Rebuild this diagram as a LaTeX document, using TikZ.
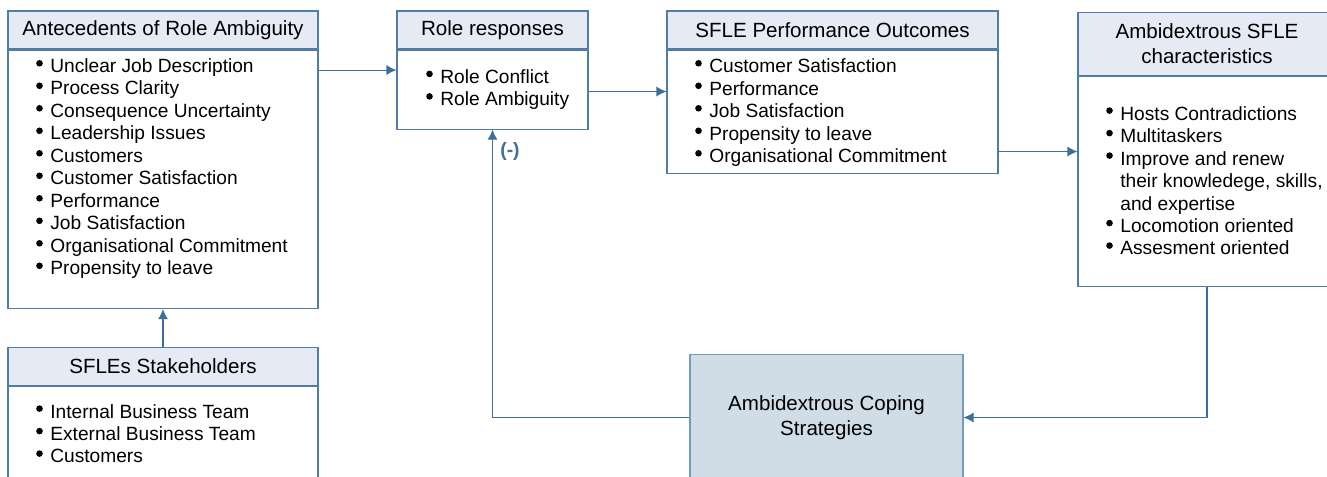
\documentclass[tikz,border=0pt]{standalone}
\usepackage{fontspec}
\setmainfont{Liberation Sans}
\usetikzlibrary{arrows.meta,positioning}
\definecolor{headLavender}{HTML}{E5EAF5}
\definecolor{frameBlue}{HTML}{4F7DA8}
\definecolor{copingGrey}{HTML}{D0DCE6}
\definecolor{copingEdge}{HTML}{6E9DBD}
\definecolor{arrowBlue}{HTML}{3D6E9C}

\begin{document}
\begin{tikzpicture}[
  >=Latex,
  head/.style={draw=frameBlue, fill=headLavender, line width=0.6pt, anchor=north, align=center, inner sep=0pt, minimum height=0.76cm, font=\fontsize{11.7}{14.2}\selectfont},
  body/.style={draw=frameBlue, fill=white, line width=0.6pt, anchor=north, inner sep=0pt},
  listtext/.style={anchor=base west, align=left, inner sep=0pt, font=\fontsize{10.9}{12.8}\selectfont},
  dot/.style={fill=black},
  coping/.style={draw=copingEdge, fill=copingGrey, line width=0.6pt, anchor=north, align=center, minimum width=5.46cm, minimum height=2.52cm, font=\fontsize{11.7}{14.2}\selectfont},
  flow/.style={-{Latex[length=2mm,width=2mm]}, line width=0.6pt, draw=arrowBlue},
  minus/.style={font=\fontsize{11}{13}\selectfont\bfseries, text=arrowBlue}
]
\useasboundingbox (0,0) rectangle (26.54,-9.54);
\clip (0,0) rectangle (26.54,-9.54);

\node[head, minimum width=6.2cm] (antehead) at (3.26,-0.21) {Antecedents of Role Ambiguity};
\node[body, minimum width=6.2cm, minimum height=5.17cm] (antebody) at (antehead.south) {};
\node[listtext] (antelist) at (1.00,-5.49) {Unclear Job Description\\Process Clarity\\Consequence Uncertainty\\Leadership Issues\\Customers\\Customer Satisfaction\\Performance\\Job Satisfaction\\Organisational Commitment\\Propensity to leave};
\foreach \i in {0,...,9}
  \fill[dot] (0.79,-1.266-0.45*\i) circle (0.066);

\node[head, minimum width=6.2cm] (stakehead) at (3.26,-6.94) {SFLEs Stakeholders};
\node[body, minimum width=6.2cm, minimum height=2.1cm] (stakebody) at (stakehead.south) {};
\node[listtext] (stakelist) at (1.00,-9.26) {Internal Business Team\\External Business Team\\Customers};
\foreach \i in {0,...,2}
  \fill[dot] (0.79,-8.172-0.45*\i) circle (0.066);

\node[head, minimum width=3.82cm] (rolehead) at (9.85,-0.21) {Role responses};
\node[body, minimum width=3.82cm, minimum height=1.58cm] (rolebody) at (rolehead.south) {};
\node[listtext] (rolelist) at (8.80,-2.11) {Role Conflict\\Role Ambiguity};
\foreach \i in {0,1}
  \fill[dot] (8.59,-1.478-0.45*\i) circle (0.066);

\node[head, minimum width=6.62cm] (outhead) at (16.65,-0.21) {SFLE Performance Outcomes};
\node[body, minimum width=6.62cm, minimum height=2.47cm] (outbody) at (outhead.south) {};
\node[listtext] (outlist) at (14.18,-3.25) {Customer Satisfaction\\Performance\\Job Satisfaction\\Propensity to leave\\Organisational Commitment};
\foreach \i in {0,...,4}
  \fill[dot] (13.97,-1.266-0.45*\i) circle (0.066);

\node[head, minimum width=5.16cm, minimum height=1.26cm] (charhead) at (24.14,-0.24) {Ambidextrous SFLE\\characteristics};
\node[body, minimum width=5.16cm, minimum height=4.2cm] (charbody) at (charhead.south) {};
\node[listtext] (charlist) at (22.40,-5.10) {Hosts Contradictions\\Multitaskers\\Improve and renew\\their knowledege, skills,\\and expertise\\Locomotion oriented\\Assesment oriented};
\foreach \i in {0,1,2,5,6}
  \fill[dot] (22.19,-2.212-0.45*\i) circle (0.066);

\node[coping] (coping) at (16.53,-7.08) {Ambidextrous Coping\\Strategies};

\coordinate (anteout) at ([yshift=-0.41cm]antebody.north east);
\coordinate (roleout) at ([yshift=-0.84cm]rolebody.north east);
\coordinate (outout) at ([yshift=-2.04cm]outbody.north east);

\draw[flow] (anteout) -- (anteout -| rolebody.west);
\draw[flow] (roleout) -- (roleout -| outbody.west);
\draw[flow] (outout) -- (outout -| charbody.west);
\draw[flow] (stakehead.north) -- (antebody.south);
\draw[flow] (charbody.south) |- (coping.east);
\draw[flow] (coping.west) -| (rolebody.south);
\node[minus] (negsign) at (10.2,-3.04) {(-)};
\end{tikzpicture}
\end{document}
